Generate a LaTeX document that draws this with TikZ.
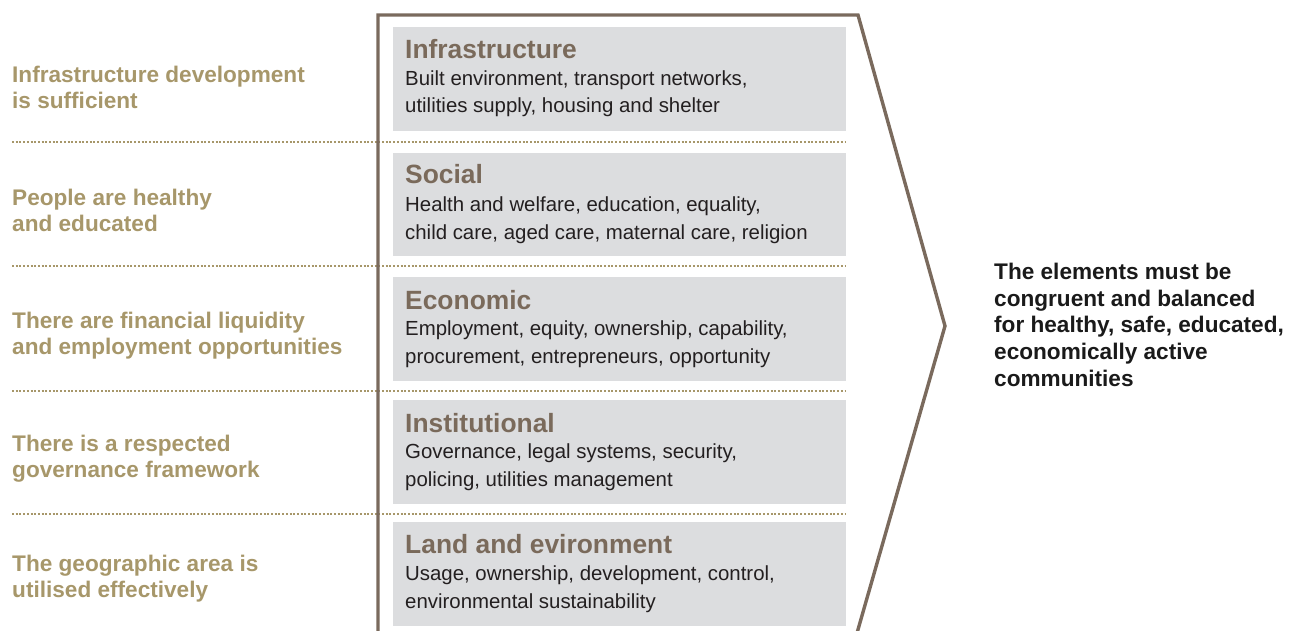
\documentclass[tikz,border=0pt]{standalone}
\usepackage{fontspec}
\setmainfont{Liberation Sans}
\definecolor{tancol}{HTML}{A7976A}
\definecolor{headcol}{HTML}{7A6A5B}
\definecolor{outcol}{HTML}{7A6A5D}
\definecolor{boxgray}{HTML}{DCDDDF}
\definecolor{bodycol}{HTML}{231F20}
\definecolor{rightcol}{HTML}{1A1A1A}
\tikzset{
  leftlbl/.style={anchor=base west, inner sep=0pt, align=left, text=tancol,
    font=\fontsize{22.6}{26}\selectfont\bfseries},
  seprule/.style={draw=tancol, line width=1.2pt, dash pattern=on 2pt off 1.7pt},
  elembox/.style={fill=boxgray, draw=none, anchor=north west, minimum width=453pt,
    minimum height=103.5pt, inner sep=0pt},
  head/.style={anchor=base west, inner sep=0pt, text=headcol,
    font=\fontsize{26.4}{30}\selectfont\bfseries},
  body/.style={anchor=base west, inner sep=0pt, align=left, text=bodycol,
    font=\fontsize{20.4}{27.8}\selectfont},
  rightlbl/.style={anchor=base west, inner sep=0pt, align=left, text=rightcol,
    font=\fontsize{22.6}{26.7}\selectfont\bfseries},
  outline/.style={draw=outcol, line width=3.4pt, line join=miter}
}
\begin{document}
\begin{tikzpicture}[x=1pt,y=-1pt]
\useasboundingbox (0,0) rectangle (1296,631);
\clip (0,0) rectangle (1296,631);

% separators
\coordinate (s1a) at (12,142);   \coordinate (s1b) at (846,142);
\coordinate (s2a) at (12,266);   \coordinate (s2b) at (846,266);
\coordinate (s3a) at (12,391);   \coordinate (s3b) at (846,391);
\coordinate (s4a) at (12,514);   \coordinate (s4b) at (846,514);
\draw[seprule] (s1a) -- (s1b);
\draw[seprule] (s2a) -- (s2b);
\draw[seprule] (s3a) -- (s3b);
\draw[seprule] (s4a) -- (s4b);

% outline chevron
\coordinate (obl) at (378,640);
\coordinate (otl) at (378,15);
\coordinate (otr) at (858,15);
\coordinate (oap) at (945,326);
\coordinate (obr) at (855,640);
\draw[outline] (obl) -- (otl) -- (otr) -- (oap) -- (obr);

% boxes
\node[elembox] (b1) at (393,27) {};
\node[elembox] (b2) at (393,152.5) {};
\node[elembox] (b3) at (393,277) {};
\node[elembox] (b4) at (393,400) {};
\node[elembox] (b5) at (393,522) {};

% headings (single line: base = baseline)
\node[head] (h1) at (405,58.5) {Infrastructure};
\node[head] (h2) at (405,184) {Social};
\node[head] (h3) at (405,309) {Economic};
\node[head] (h4) at (405,432) {Institutional};
\node[head] (h5) at (405,553) {Land and evironment};
% bodies (base = last line baseline)
\node[body] (t1) at (405,113) {Built environment, transport networks,\\utilities supply, housing and shelter};
\node[body] (t2) at (405,239.5) {Health and welfare, education, equality,\\child care, aged care, maternal care, religion};
\node[body] (t3) at (405,363) {Employment, equity, ownership, capability,\\procurement, entrepreneurs, opportunity};
\node[body] (t4) at (405,486) {Governance, legal systems, security,\\policing, utilities management};
\node[body] (t5) at (405,608) {Usage, ownership, development, control,\\environmental sustainability};

% left labels (base = last line baseline)
\node[leftlbl] (l1) at (12,109) {Infrastructure development\\is sufficient};
\node[leftlbl] (l2) at (12,232) {People are healthy\\and educated};
\node[leftlbl] (l3) at (12,354) {There are financial liquidity\\and employment opportunities};
\node[leftlbl] (l4) at (12,477.5) {There is a respected\\governance framework};
\node[leftlbl] (l5) at (12,597.5) {The geographic area is\\utilised effectively};

% right label
\node[rightlbl] (r) at (994,386.3) {The elements must be\\congruent and balanced\\for healthy, safe, educated,\\economically active\\communities};
\end{tikzpicture}
\end{document}
